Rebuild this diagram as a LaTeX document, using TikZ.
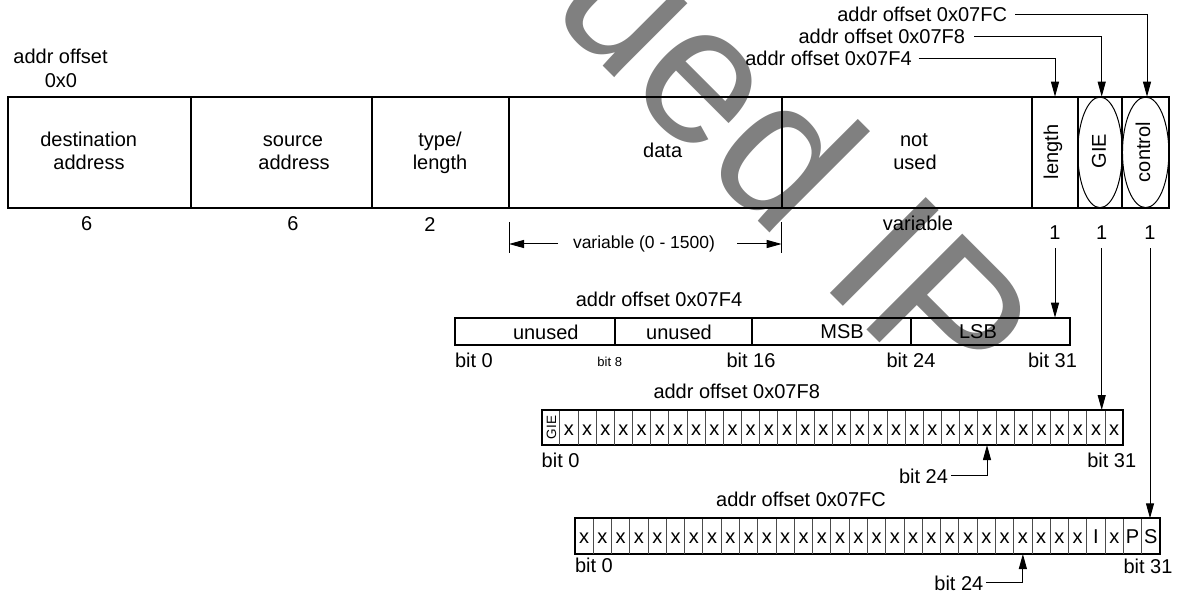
\documentclass[tikz,border=0pt]{standalone}
\usepackage{fontspec}
\setmainfont{Liberation Sans}
\usetikzlibrary{arrows.meta,calc}
\begin{document}
\begin{tikzpicture}[x=0.5pt,y=-0.5pt,
  every node/.style={inner sep=0pt, outer sep=0pt, font=\fontsize{10}{12}\selectfont},
  frame/.style={line width=1pt},
  regsep/.style={line width=0.8pt},
  cellsep/.style={line width=0.5pt, draw=black!70},
  thin/.style={line width=0.5pt},
  ptr/.style={line width=0.5pt, -{Triangle[length=7.5pt,width=4pt]}},
  wm/.style={text=black!50, font=\fontsize{98.5}{100}\selectfont},
  small/.style={font=\fontsize{6.5}{8}\selectfont},
  dimfont/.style={font=\fontsize{8.75}{10}\selectfont},
]
\path[use as bounding box] (0,0) rectangle (1182,593);
% watermark
\begin{scope}
\clip (0,0) rectangle (1182,593);
\node[wm, rotate=-45, anchor=base east] (wm) at (949,412) {Discontinued IP};
\end{scope}

% ---------- top frame ----------
\node[anchor=base] (ao) at (60.5,64) {addr offset};
\node[anchor=base] (ao0) at (61,88) {0x0};
\draw[frame] (7.5,96.7) rectangle (1169,208);
\foreach \x in {190.7,372,509,781.7,1031.7,1077.7,1122.3}
  \draw[frame] (\x,96.7) -- (\x,208);
\draw[thin] (1100,152.35) ellipse [x radius=11.15pt, y radius=27.65pt];
\draw[thin] (1145.65,152.35) ellipse [x radius=11.6pt, y radius=27.65pt];

\node[anchor=base] (dst1) at (88.7,146.7) {destination};
\node[anchor=base] (dst2) at (89,170) {address};
\node[anchor=base] (src1) at (293,146.7) {source};
\node[anchor=base] (src2) at (294,170) {address};
\node[anchor=base] (typ1) at (440,146.7) {type/};
\node[anchor=base] (typ2) at (440,170) {length};
\node[anchor=base] (dat) at (662.7,158) {data};
\node[anchor=base] (nu1) at (914,146.7) {not};
\node[anchor=base] (nu2) at (915,170) {used};
\node[rotate=90] (lenl) at (1053,152) {length};
\node[rotate=90] (giel) at (1099,151) {GIE};
\node[rotate=90] (ctll) at (1143,152) {control};

\coordinate (lenT) at (1055,96.7);
\coordinate (gieT) at (1101.7,96.7);
\coordinate (ctlT) at (1147,96.7);

% top pointers
\node[anchor=base east] (t4) at (911.7,65.7) {addr offset 0x07F4};
\node[anchor=base east] (t8) at (965,43.3) {addr offset 0x07F8};
\node[anchor=base east] (tc) at (1007,21.7) {addr offset 0x07FC};
\draw[ptr] ([xshift=3.5pt]t4.east) -| (lenT);
\draw[ptr] ([xshift=4.5pt]t8.east) -| (gieT);
\draw[ptr] ([xshift=4pt]tc.east) -| (ctlT);

% sizes
\node[anchor=base] (n1) at (86.7,231) {6};
\node[anchor=base] (n2) at (293,231) {6};
\node[anchor=base] (n3) at (430,232) {2};
\node[anchor=base] (n5) at (918,230.7) {variable};
\node[anchor=base] (one1) at (1055,240) {1};
\node[anchor=base] (one2) at (1101.7,240) {1};
\node[anchor=base] (one3) at (1150,240) {1};

% dimension
\coordinate (tkL1) at (509,222); \coordinate (tkL2) at (509,253);
\coordinate (tkR1) at (781.7,222); \coordinate (tkR2) at (781.7,253);
\draw[thin] (tkL1) -- (tkL2);
\draw[thin] (tkR1) -- (tkR2);
\node[dimfont] (dim) at (644,244) {variable (0 - 1500)};
\coordinate (dimL) at (509,244);
\coordinate (dimR) at (781.7,244);
\draw[ptr] ([xshift=-7.5pt]dim.west) -- (dimL);
\draw[ptr] ([xshift=11pt]dim.east) -- (dimR);

% ---------- register 0x07F4 ----------
\node[anchor=base] (r1t) at (659,306.7) {addr offset 0x07F4};
\draw[frame] (455,317.7) rectangle (1070,345.3);
\foreach \x in {615,751.7,910.7} \draw[regsep] (\x,317.7) -- (\x,345.3);
\node[anchor=base] (r1u1) at (545.8,339.5) {unused};
\node[anchor=base] (r1u2) at (679,339.5) {unused};
\node[anchor=base] (r1m) at (842,338.5) {MSB};
\node[anchor=base] (r1l) at (978,338.5) {LSB};
\node[anchor=base west] (r1b0) at (455,367) {bit 0};
\node[anchor=base, small] (r1b8) at (609.7,366) {bit 8};
\node[anchor=base] (r1b16) at (751,367) {bit 16};
\node[anchor=base] (r1b24) at (911,367) {bit 24};
\node[anchor=base] (r1b31) at (1052.5,367) {bit 31};
\coordinate (r1T) at (1055,317.7);
\draw[ptr] ([yshift=-4pt]one1.south) -- (r1T);

% ---------- register 0x07F8 ----------
\node[anchor=base] (r2t) at (736.7,398.3) {addr offset 0x07F8};
\draw[frame] (541.7,410) rectangle (1123.3,445);
\foreach \i in {1,...,31} \draw[cellsep] ({541.7+\i*18.175},410.5) -- ({541.7+\i*18.175},444.5);
\node[rotate=90, font=\fontsize{6.75}{8}\selectfont] (r2gie) at (551.5,427.5) {GIE};
\foreach \i in {1,...,31} \node[anchor=base] (r2x\i) at ({541.7+(\i+0.5)*18.175},435) {x};
\node[anchor=base west] (r2b0) at (541.7,467) {bit 0};
\node[anchor=base] (r2b31) at (1111.7,467) {bit 31};
\node[anchor=base east] (r2b24) at (948,483) {bit 24};
\coordinate (r2c24) at ({541.7+24.5*18.175},445);
\draw[ptr] ([xshift=1.5pt]r2b24.east) -| (r2c24);
\coordinate (r2T) at (1101.7,410);
\draw[ptr] ([yshift=-4pt]one2.south) -- (r2T);

% ---------- register 0x07FC ----------
\node[anchor=base] (r3t) at (801,506.7) {addr offset 0x07FC};
\draw[frame] (575,518.3) rectangle (1160,554);
\foreach \i in {1,...,31} \draw[cellsep] ({575+\i*18.28},518.8) -- ({575+\i*18.28},553.5);
\foreach \i in {0,...,27,29} \node[anchor=base] (r3x\i) at ({575+(\i+0.5)*18.28},543.5) {x};
\node[anchor=base] (r3I) at ({575+28.5*18.28},543.5) {I};
\node[anchor=base] (r3P) at ({575+30.5*18.28},543.5) {P};
\node[anchor=base] (r3S) at ({575+31.5*18.28},543.5) {S};
\node[anchor=base west] (r3b0) at (575,572) {bit 0};
\node[anchor=base] (r3b31) at (1148,573) {bit 31};
\node[anchor=base east] (r3b24) at (983.3,590) {bit 24};
\coordinate (r3c24) at ({575+24.5*18.28},554);
\draw[ptr] ([xshift=1.5pt]r3b24.east) -| (r3c24);
\coordinate (r3T) at (1150,518.3);
\draw[ptr] ([yshift=-4pt]one3.south) -- (r3T);
\end{tikzpicture}
\end{document}
